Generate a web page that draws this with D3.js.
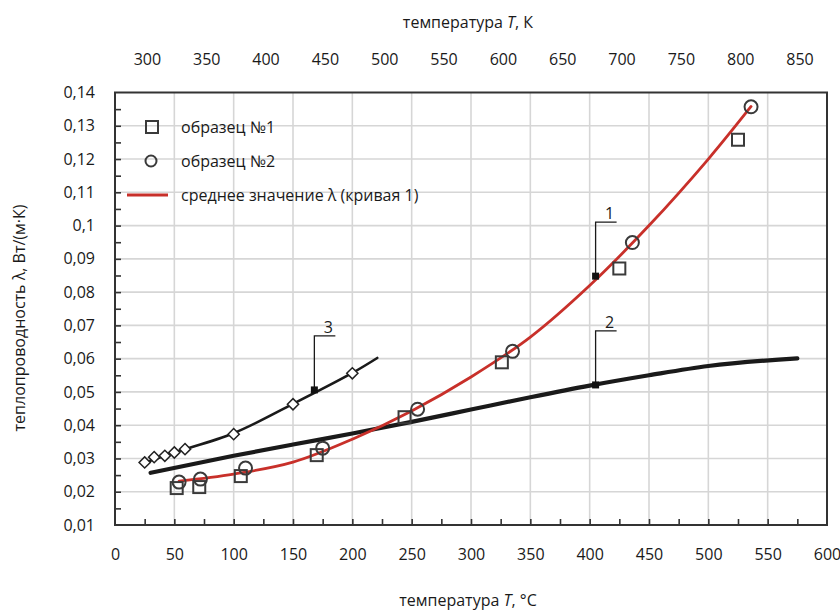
<!DOCTYPE html>
<html><head><meta charset="utf-8">
<script src="https://cdn.jsdelivr.net/npm/d3@7/dist/d3.min.js"></script>
<style>
body{margin:0;background:#fff;}
text{font-family:"Open Sans","Noto Sans",sans-serif;fill:#1a1a1a;}
</style></head>
<body><svg id="c" width="840" height="612"></svg>
<script>
// ---- data ----
const xTicksC = [0,50,100,150,200,250,300,350,400,450,500,550,600];
const xTicksK = [300,350,400,450,500,550,600,650,700,750,800,850];
const yTicks = [0.01,0.02,0.03,0.04,0.05,0.06,0.07,0.08,0.09,0.10,0.11,0.12,0.13,0.14];
const legendLabels = ["образец №1","образец №2","среднее значение λ (кривая 1)"];

const sample1T = [52,71,106,170,244,326,425,525];
const sample1V = [0.0211,0.0214,0.0247,0.0310,0.0424,0.0589,0.0871,0.1258];
const sample2T = [54,72,110,175,255,335,436,536];
const sample2V = [0.0229,0.0238,0.0271,0.0331,0.0448,0.0622,0.0949,0.1357];

const curve1T = [54,100,150,200,250,300,350,400,450,500,536];
const curve1V = [0.0232,0.0253,0.0289,0.0358,0.0443,0.0545,0.0665,0.0820,0.1000,0.1200,0.1358];
const curve2T = [30,100,150,200,250,300,350,400,450,500,575];
const curve2V = [0.0257,0.0308,0.0342,0.0375,0.0410,0.0447,0.0484,0.0519,0.0550,0.0578,0.0601];
const curve3T = [25,50,100,150,200,221];
const curve3V = [0.0287,0.0318,0.0376,0.0464,0.0557,0.0602];
const diamondT = [25,33,42,50,59,100,150,200];
const diamondV = [0.0288,0.0304,0.0308,0.0318,0.0328,0.0373,0.0463,0.0556];

const calloutLabels = ["1","2","3"];
const calloutT = [405,405,168];
const calloutV = [0.0848,0.0521,0.0506];

// ---- layout ----
const L=115, R=827, T=92.5, B=525;
const svg = d3.select("#c");
const x = d3.scaleLinear().domain([0,600]).range([L,R]);
const xK = d3.scaleLinear().domain([273.15,873.15]).range([L,R]);
const y = d3.scaleLinear().domain([0.01,0.14]).range([B,T]);
const fmt = v => String(+v.toFixed(3)).replace(".",",");

// grid
const g = svg.append("g");
g.selectAll(".gx").data(xTicksC.filter(d=>d>0&&d<600)).join("line")
  .attr("x1",d=>x(d)).attr("x2",d=>x(d)).attr("y1",T).attr("y2",B)
  .attr("stroke","#d6d6d6").attr("stroke-width",1.6);
g.selectAll(".gy").data(yTicks.filter(d=>d>0.01&&d<0.14)).join("line")
  .attr("x1",L).attr("x2",R).attr("y1",d=>y(d)).attr("y2",d=>y(d))
  .attr("stroke","#d6d6d6").attr("stroke-width",1.6);

// minor inner ticks
const minorX = d3.range(25,600,25);
const minorY = d3.range(0.015,0.1399,0.005);
svg.append("g").attr("transform",`translate(0,${B})`)
  .call(d3.axisBottom(x).tickValues(minorX).tickSize(-6).tickFormat(""))
  .call(s=>s.select(".domain").remove())
  .call(s=>s.selectAll("line").attr("stroke","#333").attr("stroke-width",1.6));
svg.append("g").attr("transform",`translate(${L},0)`)
  .call(d3.axisLeft(y).tickValues(minorY).tickSize(-6).tickFormat(""))
  .call(s=>s.select(".domain").remove())
  .call(s=>s.selectAll("line").attr("stroke","#333").attr("stroke-width",1.6));

// labels axes
svg.append("g").attr("transform",`translate(0,${B})`)
  .call(d3.axisBottom(x).tickValues(xTicksC).tickSize(0).tickPadding(24).tickFormat(d=>d))
  .call(s=>s.select(".domain").remove())
  .call(s=>s.selectAll("text").attr("font-size",16).attr("font-family","Open Sans").attr("fill","#1a1a1a"));
svg.append("g").attr("transform",`translate(${L},0)`)
  .call(d3.axisLeft(y).tickValues(yTicks).tickSize(0).tickPadding(20).tickFormat(fmt))
  .call(s=>s.select(".domain").remove())
  .call(s=>s.selectAll("text").attr("font-size",16).attr("font-family","Open Sans").attr("fill","#1a1a1a"));
svg.append("g").attr("transform",`translate(0,${T})`)
  .call(d3.axisTop(xK).tickValues(xTicksK).tickSize(0).tickPadding(28).tickFormat(d=>d))
  .call(s=>s.select(".domain").remove())
  .call(s=>s.selectAll("text").attr("font-size",16).attr("font-family","Open Sans").attr("fill","#1a1a1a"));

// frame
svg.append("rect").attr("x",L).attr("y",T).attr("width",R-L).attr("height",B-T)
  .attr("fill","none").attr("stroke","#333").attr("stroke-width",2);

// axis titles
const t1 = svg.append("text").attr("x",468).attr("y",28).attr("text-anchor","middle").attr("font-size",16);
t1.append("tspan").text("температура ");
t1.append("tspan").attr("font-style","italic").text("T");
t1.append("tspan").text(", К");
const t2 = svg.append("text").attr("x",468).attr("y",606).attr("text-anchor","middle").attr("font-size",16);
t2.append("tspan").text("температура ");
t2.append("tspan").attr("font-style","italic").text("T");
t2.append("tspan").text(", °C");
svg.append("text").attr("transform","translate(25,318) rotate(-90)").attr("text-anchor","middle")
  .attr("font-size",16).text("теплопроводность λ, Вт/(м·К)");

// curves
const smooth = d3.line().x(d=>x(d[0])).y(d=>y(d[1])).curve(d3.curveCatmullRom.alpha(0.5));
const mono = d3.line().x(d=>x(d[0])).y(d=>y(d[1])).curve(d3.curveMonotoneX);
const zip = (a,b)=>a.map((v,i)=>[v,b[i]]);
svg.append("path").datum(zip(curve2T,curve2V)).attr("d",mono)
  .attr("fill","none").attr("stroke","#1a1a1a").attr("stroke-width",4.2).attr("stroke-linecap","round");
svg.append("path").datum(zip(curve3T,curve3V)).attr("d",smooth)
  .attr("fill","none").attr("stroke","#1a1a1a").attr("stroke-width",2.6).attr("stroke-linecap","round");
svg.append("path").datum(zip(curve1T,curve1V)).attr("d",smooth)
  .attr("fill","none").attr("stroke","#c8302a").attr("stroke-width",2.8).attr("stroke-linecap","round");

// markers
const mk = "#3a3a3a";
svg.append("g").selectAll("rect").data(zip(sample1T,sample1V)).join("rect")
  .attr("x",d=>x(d[0])-6).attr("y",d=>y(d[1])-6).attr("width",12).attr("height",12)
  .attr("fill","none").attr("stroke",mk).attr("stroke-width",2);
svg.append("g").selectAll("circle").data(zip(sample2T,sample2V)).join("circle")
  .attr("cx",d=>x(d[0])).attr("cy",d=>y(d[1])).attr("r",6.5)
  .attr("fill","none").attr("stroke",mk).attr("stroke-width",2);
svg.append("g").selectAll("path").data(zip(diamondT,diamondV)).join("path")
  .attr("d",d3.symbol(d3.symbolDiamond2,80))
  .attr("transform",d=>`translate(${x(d[0])},${y(d[1])})`)
  .attr("fill","#fff").attr("stroke","#222").attr("stroke-width",1.5);

// callouts
const co = svg.append("g");
calloutLabels.forEach((lab,i)=>{
  const cx = x(calloutT[i]), cy = y(calloutV[i]);
  co.append("path").attr("d",`M${cx},${cy}V${cy-54}H${cx+21}`)
    .attr("fill","none").attr("stroke","#1a1a1a").attr("stroke-width",1.3);
  co.append("rect").attr("x",cx-3.5).attr("y",cy-3.5).attr("width",7).attr("height",7).attr("fill","#111");
  co.append("text").attr("x",cx+14).attr("y",cy-57).attr("text-anchor","middle").attr("font-size",16).text(lab);
});

// legend
const lg = svg.append("g");
lg.append("rect").attr("x",146).attr("y",121).attr("width",12).attr("height",12)
  .attr("fill","none").attr("stroke",mk).attr("stroke-width",2);
lg.append("circle").attr("cx",151).attr("cy",161).attr("r",5.5)
  .attr("fill","none").attr("stroke",mk).attr("stroke-width",2);
lg.append("line").attr("x1",127).attr("x2",168).attr("y1",195).attr("y2",195)
  .attr("stroke","#c8302a").attr("stroke-width",3);
lg.selectAll("text").data(legendLabels).join("text")
  .attr("x",181).attr("y",(d,i)=>127+i*34).attr("dy","0.35em").attr("font-size",16).text(d=>d);
</script></body></html>
